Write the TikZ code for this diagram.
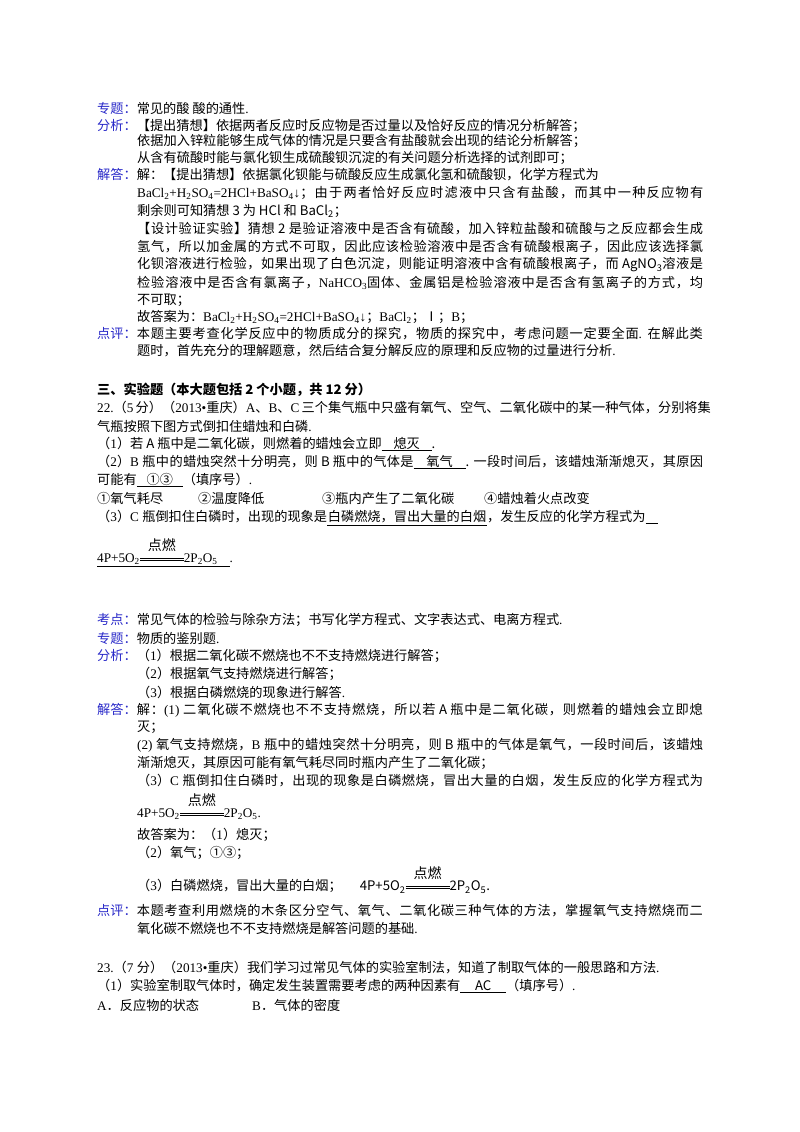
\documentclass[tikz,border=0pt]{standalone}
\usepackage{fontspec}
\setmainfont{Liberation Serif}
\newfontfamily\cjk{Noto Sans CJK SC}
\XeTeXinterchartokenstate=1
\newXeTeXintercharclass\cjkc
\makeatletter
\count@="3000
\loop\ifnum\count@<"A000 \XeTeXcharclass\count@=\cjkc \advance\count@ 1 \repeat
\count@="FF00
\loop\ifnum\count@<"FFF0 \XeTeXcharclass\count@=\cjkc \advance\count@ 1 \repeat
\count@="2460
\loop\ifnum\count@<"2474 \XeTeXcharclass\count@=\cjkc \advance\count@ 1 \repeat
\XeTeXcharclass"2160=\cjkc
\makeatother
\XeTeXinterchartoks 0 \cjkc = {\cjk}
\XeTeXinterchartoks 4095 \cjkc = {\cjk}
\XeTeXinterchartoks \cjkc 0 = {\rmfamily}
\XeTeXinterchartoks \cjkc \cjkc = {\hskip0pt plus 3pt\relax}
\definecolor{lab}{RGB}{40,40,200}
\newcommand\lb[1]{\textcolor{lab}{#1}}
\newcommand\ans[2]{\underline{\makebox[#1][c]{#2}}}
\newcommand\arr{\makebox[0pt][l]{\raisebox{12pt}{\makebox[44pt]{\fontsize{14}{16}\selectfont 点燃}}}\raisebox{2pt}{\rule{44pt}{0.5pt}}\kern-44pt\raisebox{4.5pt}{\rule{44pt}{0.5pt}}}
\newcommand\eqn{4P+5O\textsubscript{2}\arr 2P\textsubscript{2}O\textsubscript{5}}
\tikzset{ln/.style={anchor=west,inner sep=0pt,font=\fontsize{13.2}{16}\selectfont}}
\newcommand\J[1]{\makebox[566pt][s]{#1}}
\begin{document}
\begin{tikzpicture}[x=1pt,y=-1pt]
\useasboundingbox (0,0) rectangle (800,1132);
\node[ln] (a1) at (97,108) {\lb{专题：}常见的酸 酸的通性.};
\node[ln] (a2) at (97,126) {\lb{分析：}【提出猜想】依据两者反应时反应物是否过量以及恰好反应的情况分析解答；};
\node[ln] (a3) at (137,141) {依据加入锌粒能够生成气体的情况是只要含有盐酸就会出现的结论分析解答；};
\node[ln] (a4) at (137,158) {从含有硫酸时能与氯化钡生成硫酸钡沉淀的有关问题分析选择的试剂即可；};
\node[ln] (a5) at (97,175) {\lb{解答：}解：【提出猜想】依据氯化钡能与硫酸反应生成氯化氢和硫酸钡，化学方程式为};
\node[ln] (a6) at (137,193) {\J{BaCl\textsubscript{2}+H\textsubscript{2}SO\textsubscript{4}=2HCl+BaSO\textsubscript{4}↓；由于两者恰好反应时滤液中只含有盐酸，而其中一种反应物有}};
\node[ln] (a7) at (137,211) {剩余则可知猜想 3 为 HCl 和 BaCl\textsubscript{2}；};
\node[ln] (a8) at (137,229) {\J{【设计验证实验】猜想 2 是验证溶液中是否含有硫酸，加入锌粒盐酸和硫酸与之反应都会生成}};
\node[ln] (a9) at (137,247) {\J{氢气，所以加金属的方式不可取，因此应该检验溶液中是否含有硫酸根离子，因此应该选择氯}};
\node[ln] (a10) at (137,265) {\J{化钡溶液进行检验，如果出现了白色沉淀，则能证明溶液中含有硫酸根离子，而 AgNO\textsubscript{3}溶液是}};
\node[ln] (a11) at (137,283) {\J{检验溶液中是否含有氯离子，NaHCO\textsubscript{3}固体、金属铝是检验溶液中是否含有氢离子的方式，均}};
\node[ln] (a12) at (137,300) {不可取；};
\node[ln] (a13) at (137,317) {故答案为：BaCl\textsubscript{2}+H\textsubscript{2}SO\textsubscript{4}=2HCl+BaSO\textsubscript{4}↓；BaCl\textsubscript{2}；Ⅰ；B；};
\node[ln] (a14) at (97,334) {\lb{点评：}\makebox[566pt][s]{本题主要考查化学反应中的物质成分的探究，物质的探究中，考虑问题一定要全面. 在解此类}};
\node[ln] (a15) at (137,351) {题时，首先充分的理解题意，然后结合复分解反应的原理和反应物的过量进行分析.};
\node[ln,font=\fontsize{13.2}{16}\selectfont\bfseries] (b0) at (97,390) {三、实验题（本大题包括 2 个小题，共 12 分）};
\node[ln] (b1) at (97,408) {\makebox[606pt][s]{22.（5 分）（2013•重庆）A、B、C 三个集气瓶中只盛有氧气、空气、二氧化碳中的某一种气体，分别将集}};
\node[ln] (b2) at (97,426) {气瓶按照下图方式倒扣住蜡烛和白磷.};
\node[ln] (b3) at (97,444) {（1）若 A 瓶中是二氧化碳，则燃着的蜡烛会立即\ans{50pt}{熄灭}.};
\node[ln] (b4) at (97,462) {\makebox[606pt][s]{（2）B 瓶中的蜡烛突然十分明亮，则 B 瓶中的气体是\ans{52pt}{氧气}. 一段时间后，该蜡烛渐渐熄灭，其原因}};
\node[ln] (b5) at (97,480) {可能有\ans{46pt}{①③}（填序号）.};
\node[ln] (b6a) at (97,498) {①氧气耗尽};
\node[ln] (b6b) at (198,498) {②温度降低};
\node[ln] (b6c) at (322,498) {③瓶内产生了二氧化碳};
\node[ln] (b6d) at (484,498) {④蜡烛着火点改变};
\node[ln] (b7) at (97,518) {（3）C 瓶倒扣住白磷时，出现的现象是\ans{160pt}{白磷燃烧，冒出大量的白烟}，发生反应的化学方程式为\underline{\hspace{12pt}}};
\node[ln] (b8) at (97,553) {\underline{\eqn\hspace{12pt}}.};
\node[ln] (c1) at (97,620) {\lb{考点：}常见气体的检验与除杂方法；书写化学方程式、文字表达式、电离方程式.};
\node[ln] (c2) at (97,638) {\lb{专题：}物质的鉴别题.};
\node[ln] (c3) at (97,656) {\lb{分析：}（1）根据二氧化碳不燃烧也不不支持燃烧进行解答；};
\node[ln] (c4) at (137,674) {（2）根据氧气支持燃烧进行解答；};
\node[ln] (c5) at (137,692) {（3）根据白磷燃烧的现象进行解答.};
\node[ln] (c6) at (97,710) {\lb{解答：}\makebox[566pt][s]{解：(1) 二氧化碳不燃烧也不不支持燃烧，所以若 A 瓶中是二氧化碳，则燃着的蜡烛会立即熄}};
\node[ln] (c7) at (137,727) {灭；};
\node[ln] (c8) at (137,745) {\J{(2) 氧气支持燃烧，B 瓶中的蜡烛突然十分明亮，则 B 瓶中的气体是氧气，一段时间后，该蜡烛}};
\node[ln] (c9) at (137,763) {渐渐熄灭，其原因可能有氧气耗尽同时瓶内产生了二氧化碳；};
\node[ln] (c10) at (137,781) {\J{（3）C 瓶倒扣住白磷时，出现的现象是白磷燃烧，冒出大量的白烟，发生反应的化学方程式为}};
\node[ln] (c11) at (137,807) {\eqn.};
\node[ln] (c12) at (137,835) {故答案为：（1）熄灭；};
\node[ln] (c13) at (137,853) {（2）氧气；①③；};
\node[ln] (c14) at (137,880) {（3）白磷燃烧，冒出大量的白烟；\hspace{18pt}\eqn.};
\node[ln] (c15) at (97,911) {\lb{点评：}\makebox[566pt][s]{本题考查利用燃烧的木条区分空气、氧气、二氧化碳三种气体的方法，掌握氧气支持燃烧而二}};
\node[ln] (c16) at (137,928) {氧化碳不燃烧也不不支持燃烧是解答问题的基础.};
\node[ln] (d1) at (97,968) {23.（7 分）（2013•重庆）我们学习过常见气体的实验室制法，知道了制取气体的一般思路和方法.};
\node[ln] (d2) at (97,986) {（1）实验室制取气体时，确定发生装置需要考虑的两种因素有\ans{46pt}{AC}（填序号）.};
\node[ln] (d3a) at (97,1005) {A．反应物的状态};
\node[ln] (d3b) at (252,1005) {B．气体的密度};
\end{tikzpicture}
\end{document}
